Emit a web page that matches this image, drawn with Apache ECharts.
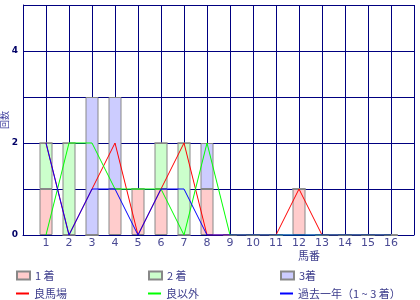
<!DOCTYPE html>
<html><head><meta charset="utf-8">
<script src="https://cdn.jsdelivr.net/npm/echarts@6/dist/echarts.min.js"></script>
<style>html,body{margin:0;padding:0;background:#fff}#c{width:420px;height:300px}</style>
</head><body><div id="c"></div><script>
const horses = ['1','2','3','4','5','6','7','8','9','10','11','12','13','14','15','16'];
const first  = [1,0,0,1,1,1,0,1,0,0,0,1,0,0,0,0];
const second = [1,2,0,0,0,1,2,0,0,0,0,0,0,0,0,0];
const third  = [0,0,3,2,0,0,0,1,0,0,0,0,0,0,0,0];
const goodTrack = [2,0,1,2,0,1,2,0,0,0,0,1,0,0,0,0];
const otherTrack = [0,2,2,1,1,1,0,2,0,0,0,0,0,0,0,0];
const pastYear = [2,0,1,1,0,1,1,0,0,0,0,0,0,0,0,0];
const xCategories = [' '].concat(horses, ['  ']);
const yTickLabels = ['0','','2','','4',''];
const names = ['1 着','2 着','3着','良馬場','良以外','過去一年（1 ~ 3 着）'];

const font = '"Noto Sans CJK JP", "DejaVu Sans", sans-serif';
const txt = '#3c3c8c';
const pair = arr => horses.map((h,i)=>[h, arr[i]]);

const barBase = {type:'bar', stack:'a', barWidth:13, itemStyle:{borderColor:'#888888', borderWidth:1}};
const lineBase = {type:'line', symbol:'none', showSymbol:false, lineStyle:{width:1}, z:3};

const legendPos = [[16,270],[148,270],[280,270],[16,288],[148,288],[280,288]];
const legends = names.map((n,i)=>({
  left: legendPos[i][0], top: legendPos[i][1], data:[{name:n, icon:'rect'}],
  itemWidth:13, itemHeight: i<3 ? 8 : 2, itemGap:4, padding:0, selectedMode:false,
  textStyle:{fontSize:11, color:txt, fontFamily:font}
}));

const chart = echarts.init(document.getElementById('c'), null, {renderer:'canvas'});
chart.setOption({
  animation:false,
  textStyle:{fontFamily:font},
  grid:{left:23, right:6, top:5, bottom:65, containLabel:false, outerBoundsMode:'none'},
  legend: legends,
  graphic:[
    {type:'text', left:298, top:250, style:{text:'馬番', fill:txt, font:'11px '+font}}
  ],
  xAxis:{type:'category', data:xCategories, boundaryGap:false,
    axisLine:{show:true, lineStyle:{color:'#000080', width:1}},
    axisTick:{show:false},
    splitLine:{show:true, interval:0, lineStyle:{color:'#000080', width:1}},
    axisLabel:{interval:0, color:'#4a4a94', fontSize:11, margin:3, fontFamily:'"DejaVu Sans", sans-serif'}
  },
  yAxis:{type:'value', min:0, max:5, interval:1,
    name:'回数', nameLocation:'middle', nameGap:14, nameRotate:90, nameMoveOverlap:false,
    nameTextStyle:{fontSize:9, color:'#3c3c9c', fontFamily:font},
    axisLine:{show:true, lineStyle:{color:'#000080', width:1}},
    axisTick:{show:false},
    splitLine:{show:true, lineStyle:{color:'#000080', width:1}},
    axisLabel:{formatter:v=>yTickLabels[v]||'', color:'#000066', fontSize:9, fontWeight:'bold', margin:5, fontFamily:'"DejaVu Sans", sans-serif'}
  },
  series:[
    Object.assign({}, barBase, {name:names[0], color:'#ffcccc', data:pair(first)}),
    Object.assign({}, barBase, {name:names[1], color:'#ccffcc', data:pair(second)}),
    Object.assign({}, barBase, {name:names[2], color:'#ccccff', data:pair(third)}),
    Object.assign({}, lineBase, {name:names[3], color:'#ff0000', data:pair(goodTrack)}),
    Object.assign({}, lineBase, {name:names[4], color:'#00ff00', data:pair(otherTrack)}),
    Object.assign({}, lineBase, {name:names[5], color:'#0000ff', data:pair(pastYear), z:4})
  ]
});
</script></body></html>
